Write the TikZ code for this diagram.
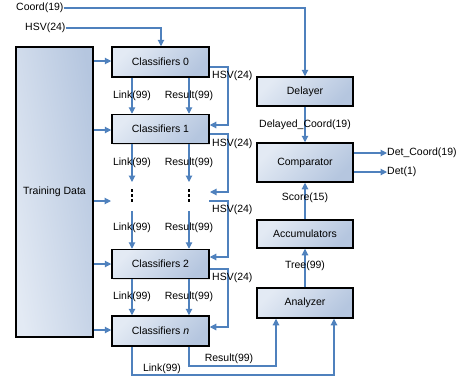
\documentclass[tikz,border=0pt]{standalone}
\usepackage{fontspec}
\setmainfont{Liberation Sans}
\usetikzlibrary{arrows.meta,shadows}
\definecolor{lineblue}{HTML}{4F81BD}
\definecolor{boxlight}{HTML}{E3EAF4}
\definecolor{boxdark}{HTML}{B5C6DF}
\tikzset{
  blk/.style={draw=black, line width=1.5pt, top color=boxlight, bottom color=boxdark,
    shading angle=45, inner sep=0pt, font=\fontsize{10.5}{12}\selectfont,
    drop shadow={opacity=0.2, shadow xshift=1pt, shadow yshift=-1pt}},
  tallblk/.style={blk, left color=boxlight, right color=boxdark, shading angle=100},
  conn/.style={draw=lineblue, line width=1.1pt, -{Triangle[length=6.5pt,width=6.5pt]}},
  lbl/.style={inner sep=0pt, font=\fontsize{10.5}{12}\selectfont},
  dotsq/.style={fill=black},
}
\begin{document}
\begin{tikzpicture}[x=1pt,y=-1pt]
\useasboundingbox (0,0) rectangle (466,381);
% blocks
\node[tallblk, minimum width=77pt, minimum height=290pt] (train) at (54.5,192) {Training Data};
\node[blk, minimum width=97pt, minimum height=30pt] (c0) at (160.5,62) {Classifiers 0};
\node[blk, minimum width=97pt, minimum height=29pt] (c1) at (160.5,129) {Classifiers 1};
\node[blk, minimum width=97pt, minimum height=29pt] (c2) at (160.5,264) {Classifiers 2};
\node[blk, minimum width=97pt, minimum height=30pt] (cn) at (160.5,331) {Classifiers \textit{n}};
\node[blk, minimum width=96pt, minimum height=29pt] (del) at (305,91.5) {Delayer};
\node[blk, minimum width=96pt, minimum height=39pt] (cmp) at (305,162.5) {Comparator};
\node[blk, minimum width=96pt, minimum height=28pt] (acc) at (305,234) {Accumulators};
\node[blk, minimum width=96pt, minimum height=30pt] (ana) at (305,303) {Analyzer};
% dots
\foreach \xx in {132,189}{
  \foreach \yy in {190.5,195.5,200.5}{
    \fill[dotsq] (\xx-1.2,\yy-1.2) rectangle (\xx+1.2,\yy+1.2);
  }
}
% input labels
\node[lbl, anchor=west] (coord) at (16,8) {Coord(19)};
\node[lbl, anchor=west] (hsv) at (25,28) {HSV(24)};
\draw[conn] (coord.east) -- (305,8) -- (del.north);
\draw[conn] (hsv.east) -- (161,28) -- (c0.north -| 161,0);
% training data arrows
\coordinate (tdots) at (111,201);
\draw[conn] (train.east |- 0,61) -- (c0.west |- 0,61);
\draw[conn] (train.east |- 0,130) -- (c1.west |- 0,130);
\draw[conn] (train.east |- 0,201) -- (tdots);
\draw[conn] (train.east |- 0,264) -- (c2.west |- 0,264);
\draw[conn] (train.east |- 0,330) -- (cn.west |- 0,330);
% link/result chains
\coordinate (l1e) at (132,182); \coordinate (r1e) at (189,182);
\coordinate (l2s) at (132,211); \coordinate (r2s) at (189,211);
\draw[conn] (c0.south -| 132,0) -- node[lbl] {Link(99)} (c1.north -| 132,0);
\draw[conn] (c0.south -| 189,0) -- node[lbl] {Result(99)} (c1.north -| 189,0);
\draw[conn] (c1.south -| 132,0) -- node[lbl] {Link(99)} (l1e);
\draw[conn] (c1.south -| 189,0) -- node[lbl] {Result(99)} (r1e);
\draw[conn] (l2s) -- node[lbl, pos=0.45] {Link(99)} (c2.north -| 132,0);
\draw[conn] (r2s) -- node[lbl, pos=0.45] {Result(99)} (c2.north -| 189,0);
\draw[conn] (c2.south -| 132,0) -- node[lbl] {Link(99)} (cn.north -| 132,0);
\draw[conn] (c2.south -| 189,0) -- node[lbl] {Result(99)} (cn.north -| 189,0);
% HSV loops
\coordinate (hd1) at (210,192);
\coordinate (hd2) at (209,201);
\draw[conn] (c0.east |- 0,67) -- (228,67) -- (228,125) -- (c1.east |- 0,125);
\draw[conn] (c1.east |- 0,134) -- (228,134) -- (228,192) -- (hd1);
\draw[conn] (hd2) -- (228,201) -- (228,257) -- (c2.east |- 0,257);
\draw[conn] (c2.east |- 0,269) -- (228,269) -- (228,327) -- (cn.east |- 0,327);
\node[lbl, anchor=west] (h1) at (212,76) {HSV(24)};
\node[lbl, anchor=west] (h2) at (212,144) {HSV(24)};
\node[lbl, anchor=west] (h3) at (212,210) {HSV(24)};
\node[lbl, anchor=west] (h4) at (212,278) {HSV(24)};
% right column
\draw[conn] (del.south) -- (cmp.north);
\node[lbl] (dcl) at (305,125) {Delayed\_Coord(19)};
\coordinate (o1) at (387,153);
\coordinate (o2) at (387,172);
\draw[conn] (cmp.east |- o1) -- (o1);
\draw[conn] (cmp.east |- o2) -- (o2);
\node[lbl, anchor=west] (dc) at (o1) {Det\_Coord(19)};
\node[lbl, anchor=west] (dt) at (o2) {Det(1)};
\draw[conn] (acc.north) -- (cmp.south);
\node[lbl] (sc) at (305,198) {Score(15)};
\draw[conn] (ana.north) -- (acc.south);
\node[lbl] (tr) at (305,266) {Tree(99)};
% bottom feeds
\draw[conn] (cn.south -| 189,0) -- (189,366) -- (276,366) -- (ana.south -| 276,0);
\draw[conn] (cn.south -| 132,0) -- (132,375) -- (334,375) -- (ana.south -| 334,0);
\node[lbl] (rl) at (229,359) {Result(99)};
\node[lbl] (ll) at (162,369) {Link(99)};
\end{tikzpicture}
\end{document}
